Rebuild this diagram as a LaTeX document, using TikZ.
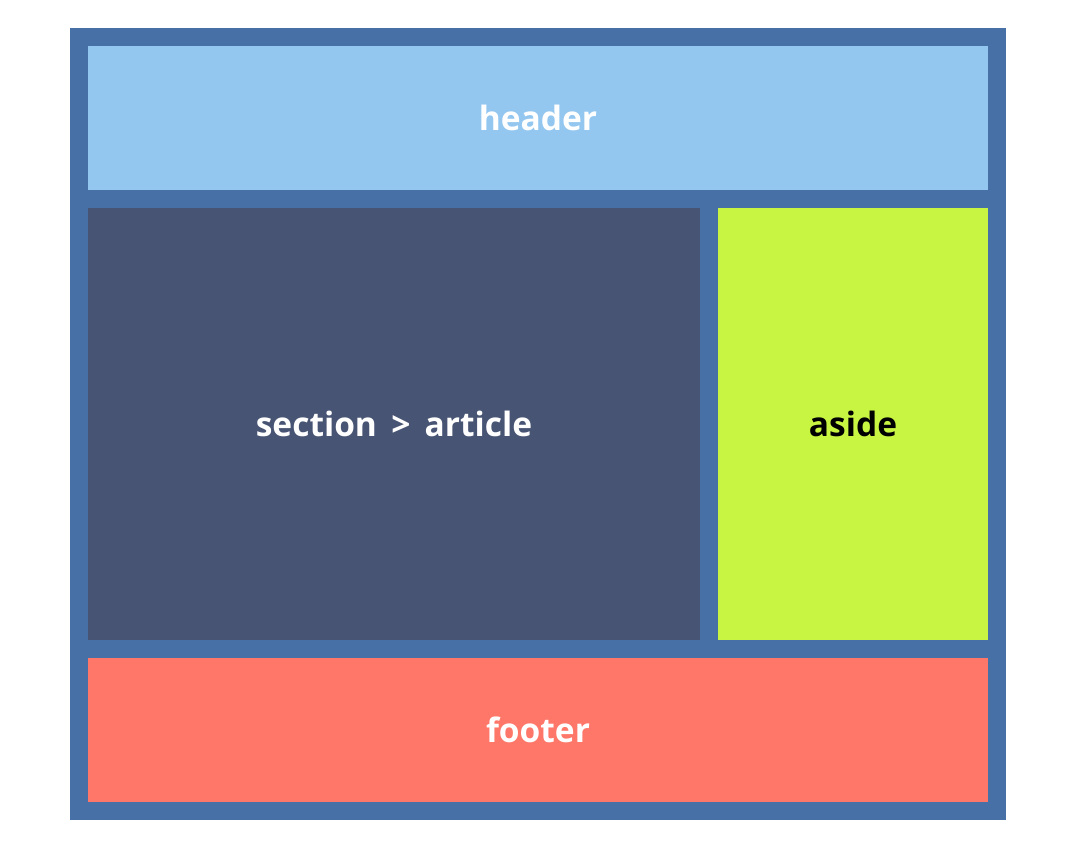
\documentclass[tikz,border=0pt]{standalone}
\usepackage{fontspec}
\setmainfont{Open Sans}
\usepackage{xcolor}
\usepackage{tikz}
\definecolor{wrapblue}{HTML}{4670A6}
\definecolor{headerblue}{HTML}{94C7F0}
\definecolor{sectionslate}{HTML}{475473}
\definecolor{asidelime}{HTML}{C8F542}
\definecolor{footersalmon}{HTML}{FF7769}
\begin{document}
\begin{tikzpicture}[x=1pt, y=-1pt,
        box/.style={inner sep=0pt, outer sep=0pt, font=\fontsize{33.5}{40}\selectfont\bfseries, text=white}]
        \useasboundingbox (0,0) rectangle (1065,851);
        \node[box, fill=wrapblue, minimum width=936pt, minimum height=792pt] (wrap) at (538,424) {};
        \node[box, fill=headerblue, minimum width=900pt, minimum height=144pt] (header) at (538,118) {header};
        \node[box, fill=sectionslate, minimum width=612pt, minimum height=432pt] (article) at (394,424) {section \,>\, article};
        \node[box, fill=asidelime, text=black, minimum width=270pt, minimum height=432pt] (aside) at (853,424) {aside};
        \node[box, fill=footersalmon, minimum width=900pt, minimum height=144pt] (footer) at (538,730) {footer};
    \end{tikzpicture}
\end{document}
